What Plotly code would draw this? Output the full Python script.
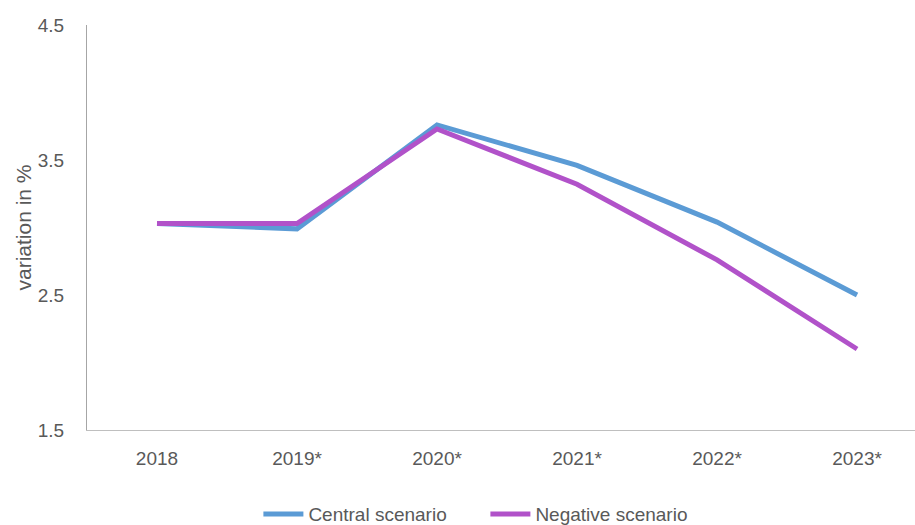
import plotly.graph_objects as go

years = ["2018", "2019*", "2020*", "2021*", "2022*", "2023*"]
central = [3.03, 2.99, 3.76, 3.46, 3.04, 2.50]
negative = [3.03, 3.03, 3.73, 3.32, 2.76, 2.10]
y_ticks = [1.5, 2.5, 3.5, 4.5]

blue = "#5B9BD5"
purple = "#B152C9"
grey_text = "#595959"
font_family = "Liberation Sans, Arial, sans-serif"

fig = go.Figure()
fig.add_trace(go.Scatter(x=list(range(len(years))), y=central, mode="lines",
                         name="Central scenario",
                         line=dict(color=blue, width=5)))
fig.add_trace(go.Scatter(x=list(range(len(years))), y=negative, mode="lines",
                         name="Negative scenario",
                         line=dict(color=purple, width=5)))

fig.update_layout(
    width=915, height=525,
    margin=dict(l=87, r=0, t=25, b=95, autoexpand=False),
    paper_bgcolor="white", plot_bgcolor="white",
    font=dict(family=font_family, size=19, color=grey_text),
    showlegend=True,
    legend=dict(orientation="h", x=0.207, xanchor="left", y=-0.161, yanchor="top",
                font=dict(size=19, color=grey_text), tracegroupgap=0,
                itemwidth=40, entrywidth=172, entrywidthmode="pixels"),
    xaxis=dict(
        range=[-0.5, 5.414], automargin=False,
        tickmode="array", tickvals=list(range(len(years))), ticktext=years,
        showgrid=False, zeroline=False,
        showline=True, linecolor="#BFBFBF", linewidth=1,
        ticks="", ticklabelstandoff=11,
        tickfont=dict(size=19, color=grey_text),
    ),
    yaxis=dict(
        range=[1.5, 4.5], automargin=False,
        tickmode="array", tickvals=y_ticks, ticktext=[str(v) for v in y_ticks],
        showgrid=False, zeroline=False,
        showline=True, linecolor="#A6A6A6", linewidth=1,
        ticks="", ticklabelstandoff=18,
        tickfont=dict(size=19, color=grey_text),
        title=dict(text="variation in %", font=dict(size=21, color=grey_text), standoff=0),
    ),
)

fig.write_html("out.html", config={"displayModeBar": False},
               post_script="document.body.style.margin='0';")
